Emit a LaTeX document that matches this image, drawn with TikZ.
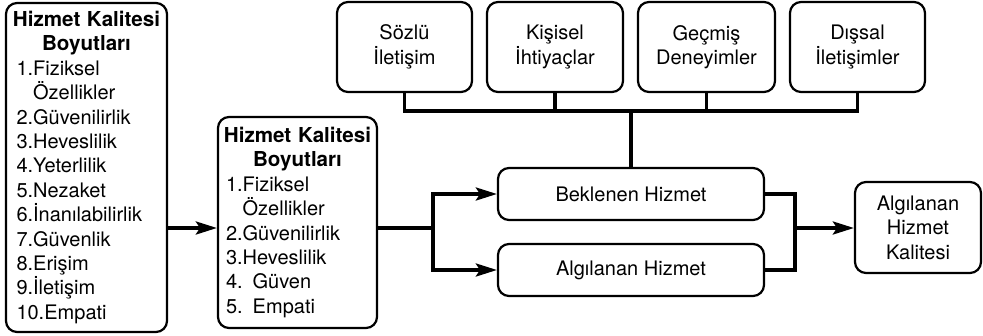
\documentclass[tikz,border=0pt]{standalone}
\usepackage{fontspec}
\setmainfont{TeX Gyre Heros}
\usetikzlibrary{arrows.meta}
\tikzset{
  box/.style={draw, line width=2.2pt, rounded corners=11pt, inner sep=0pt,
    font=\fontsize{20}{24.4}\selectfont},
  conn/.style={line width=3.3pt},
  arr/.style={conn, -{Stealth[length=21pt,width=13pt,inset=4pt]}},
}
\newcommand{\ttl}[2]{\makebox[#1][c]{\fontsize{20.6}{24.4}\selectfont\bfseries #2}}
\begin{document}
\begin{tikzpicture}[x=1pt,y=-1pt]
\useasboundingbox (0,0) rectangle (983,335);
% left box
\node[box, minimum width=161pt, minimum height=329pt, text width=140pt, align=left] (L) at (86.5,167.5)
 {\ttl{140pt}{Hizmet Kalitesi}\\ \ttl{140pt}{Boyutları}\\
  1.Fiziksel\\ \phantom{1.}Özellikler\\ 2.Güvenilirlik\\ 3.Heveslilik\\
  4.Yeterlilik\\ 5.Nezaket\\ 6.İnanılabilirlik\\ 7.Güvenlik\\ 8.Erişim\\
  9.İletişim\\ 10.Empati};
% middle box
\node[box, minimum width=159pt, minimum height=211pt, text width=143pt, align=left] (M) at (297.5,222.5)
 {\ttl{143pt}{Hizmet Kalitesi}\\ \ttl{143pt}{Boyutları}\\
  1.Fiziksel\\ \phantom{1.}Özellikler\\ 2.Güvenilirlik\\ 3.Heveslilik\\
  4. Güven\\ 5. Empati};
% top boxes
\node[box, minimum width=135pt, minimum height=90pt, align=center] (T1) at (404.5,47) {Sözlü\\ İletişim};
\node[box, minimum width=136pt, minimum height=90pt, align=center] (T2) at (555,47) {Kişisel\\ İhtiyaçlar};
\node[box, minimum width=137pt, minimum height=90pt, align=center] (T3) at (706.5,47) {Geçmiş\\ Deneyimler};
\node[box, minimum width=135pt, minimum height=90pt, align=center] (T4) at (857.5,47) {Dışsal\\ İletişimler};
% middle column
\node[box, minimum width=266pt, minimum height=52pt] (B) at (631,194) {Beklenen Hizmet};
\node[box, minimum width=266pt, minimum height=52pt] (A) at (631,270) {Algılanan Hizmet};
% result
\node[box, minimum width=126pt, minimum height=91pt, align=center] (F) at (918,227.5) {Algılanan\\ Hizmet\\ Kalitesi};
% coordinates
\coordinate (yL) at (0,228);
\coordinate (j1) at (433,228);
\coordinate (j2) at (795,228);
\coordinate (bus) at (631,111);
% connectors
\draw[arr] (L.east |- yL) -- (M.west |- yL);
\draw[conn] (M.east |- j1) -- (j1);
\draw[arr] (j1) |- (B.west);
\draw[arr] (j1) |- (A.west);
\draw[conn] (B.east) -| (j2);
\draw[conn] (A.east) -| (j2);
\draw[arr] (j2) -- (F.west |- j2);
\draw[conn] (T1.south) -- (T1.south |- bus);
\draw[conn] (T2.south) -- (T2.south |- bus);
\draw[conn] (T3.south) -- (T3.south |- bus);
\draw[conn] (T4.south) -- (T4.south |- bus);
\draw[conn, line cap=rect] (T1.south |- bus) -- (T4.south |- bus);
\draw[conn] (bus) -- (B.north);
\end{tikzpicture}
\end{document}
